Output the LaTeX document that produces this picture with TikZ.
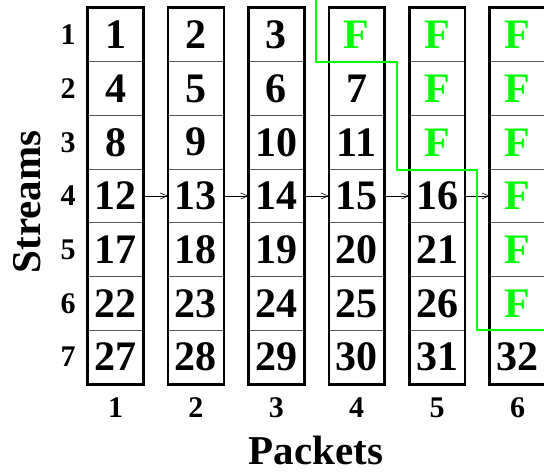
\documentclass[tikz,border=0pt]{standalone}
\usepackage{fontspec}
\setmainfont{Liberation Serif}
\usepackage{tikz}
\usetikzlibrary{arrows.meta}
\definecolor{fgreen}{HTML}{00FF00}
\newcommand\numfont{\fontsize{42}{42}\selectfont\bfseries}
\newcommand\labfont{\fontsize{30}{30}\selectfont\bfseries}
\newcommand\axfont{\fontsize{41}{41}\selectfont\bfseries}

\begin{document}
\begin{tikzpicture}[x=1pt,y=1pt,
  cell/.style={draw=black!65, line width=0.8pt, minimum width=55pt, minimum height=53.7pt, inner sep=0pt, font=\numfont},
  fcell/.style={cell, text=fgreen},
  lab/.style={font=\labfont},
  frame/.style={draw=black, line width=2.6pt},
  arr/.style={-{Straight Barb[length=7pt,width=6pt]}, line width=0.6pt},
  sep/.style={draw=fgreen, line width=2pt}
]
\useasboundingbox (0,0) rectangle (544,-472);
% ---- steps ----
\def\cw{80.4} % column step
\def\rh{53.7} % row step

\begin{scope}[shift={(115.5,-34.85)}]
% ===== CELLS (packets = columns, streams = rows) =====
\node[cell] (c11) at (\cw*0,-\rh*0){1};\node[cell] (c21) at (\cw*1,-\rh*0){2};\node[cell] (c31) at (\cw*2,-\rh*0){3};\node[fcell] (c41) at (\cw*3,-\rh*0){F};\node[fcell] (c51) at (\cw*4,-\rh*0){F};\node[fcell] (c61) at (\cw*5,-\rh*0){F};
\node[cell] (c12) at (\cw*0,-\rh*1){4};\node[cell] (c22) at (\cw*1,-\rh*1){5};\node[cell] (c32) at (\cw*2,-\rh*1){6};\node[cell] (c42) at (\cw*3,-\rh*1){7};\node[fcell] (c52) at (\cw*4,-\rh*1){F};\node[fcell] (c62) at (\cw*5,-\rh*1){F};
\node[cell] (c13) at (\cw*0,-\rh*2){8};\node[cell] (c23) at (\cw*1,-\rh*2){9};\node[cell] (c33) at (\cw*2,-\rh*2){10};\node[cell] (c43) at (\cw*3,-\rh*2){11};\node[fcell] (c53) at (\cw*4,-\rh*2){F};\node[fcell] (c63) at (\cw*5,-\rh*2){F};
\node[cell] (c14) at (\cw*0,-\rh*3){12};\node[cell] (c24) at (\cw*1,-\rh*3){13};\node[cell] (c34) at (\cw*2,-\rh*3){14};\node[cell] (c44) at (\cw*3,-\rh*3){15};\node[cell] (c54) at (\cw*4,-\rh*3){16};\node[fcell] (c64) at (\cw*5,-\rh*3){F};
\node[cell] (c15) at (\cw*0,-\rh*4){17};\node[cell] (c25) at (\cw*1,-\rh*4){18};\node[cell] (c35) at (\cw*2,-\rh*4){19};\node[cell] (c45) at (\cw*3,-\rh*4){20};\node[cell] (c55) at (\cw*4,-\rh*4){21};\node[fcell] (c65) at (\cw*5,-\rh*4){F};
\node[cell] (c16) at (\cw*0,-\rh*5){22};\node[cell] (c26) at (\cw*1,-\rh*5){23};\node[cell] (c36) at (\cw*2,-\rh*5){24};\node[cell] (c46) at (\cw*3,-\rh*5){25};\node[cell] (c56) at (\cw*4,-\rh*5){26};\node[fcell] (c66) at (\cw*5,-\rh*5){F};
\node[cell] (c17) at (\cw*0,-\rh*6){27};\node[cell] (c27) at (\cw*1,-\rh*6){28};\node[cell] (c37) at (\cw*2,-\rh*6){29};\node[cell] (c47) at (\cw*3,-\rh*6){30};\node[cell] (c57) at (\cw*4,-\rh*6){31};\node[cell] (c67) at (\cw*5,-\rh*6){32};

% packet frames
\draw[frame] (c11.north west) rectangle (c17.south east);
\draw[frame] (c21.north west) rectangle (c27.south east);
\draw[frame] (c31.north west) rectangle (c37.south east);
\draw[frame] (c41.north west) rectangle (c47.south east);
\draw[frame] (c51.north west) rectangle (c57.south east);
\draw[frame] (c61.north west) rectangle (c67.south east);

% stream 4 arrows
\draw[arr] (c14.east) -- (c24.west);
\draw[arr] (c24.east) -- (c34.west);
\draw[arr] (c34.east) -- (c44.west);
\draw[arr] (c44.east) -- (c54.west);
\draw[arr] (c54.east) -- (c64.west);

% ===== AXIS LABELS =====
\node[lab] (s1) at (-47.5,-\rh*0){1};
\node[lab] (s2) at (-47.5,-\rh*1){2};
\node[lab] (s3) at (-47.5,-\rh*2){3};
\node[lab] (s4) at (-47.5,-\rh*3){4};
\node[lab] (s5) at (-47.5,-\rh*4){5};
\node[lab] (s6) at (-47.5,-\rh*5){6};
\node[lab] (s7) at (-47.5,-\rh*6){7};
\node[lab] (p1) at (\cw*0,-373.2){1};
\node[lab] (p2) at (\cw*1,-373.2){2};
\node[lab] (p3) at (\cw*2,-373.2){3};
\node[lab] (p4) at (\cw*3,-373.2){4};
\node[lab] (p5) at (\cw*4,-373.2){5};
\node[lab] (p6) at (\cw*5,-373.2){6};
\node[font=\axfont] (packets) at (200.5,-415.2){Packets};
\node[font=\axfont,rotate=90] (streams) at (-88.5,-167.2){Streams};
\end{scope}

% green boundary
\draw[sep] (316,0) -- (316,-62) -- (397,-62) -- (397,-170) -- (477,-170) -- (477,-330) -- (544,-330);

\end{tikzpicture}
\end{document}
